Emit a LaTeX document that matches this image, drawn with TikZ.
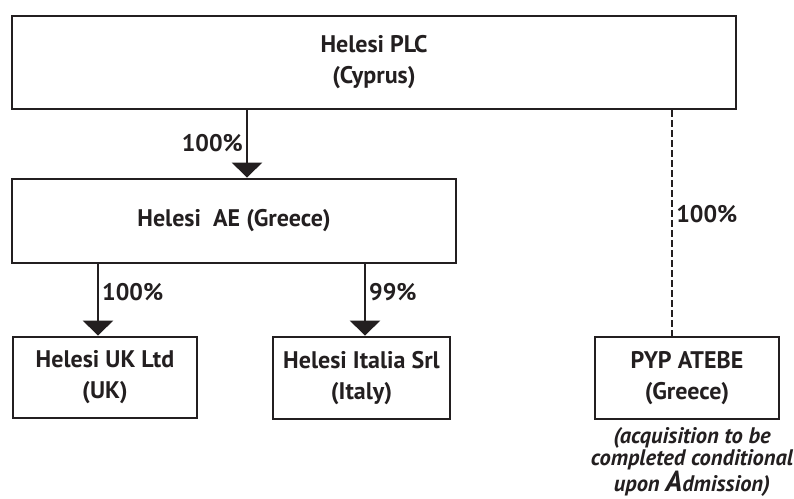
\documentclass[tikz,border=0pt]{standalone}
\usepackage{fontspec}
\setmainfont{PT Sans}
\usetikzlibrary{arrows.meta,positioning}
\definecolor{inkblack}{RGB}{35,31,32}
\tikzstyle{arrow} = [line width=2.4pt,-{Triangle[width=30pt,length=15pt]},color=inkblack]
\tikzstyle{entity} = [rectangle, draw=inkblack, line width=2.8pt, text=inkblack, text centered, align=center, inner sep=0pt, font=\fontsize{24}{31}\selectfont\bfseries]
\tikzstyle{pct} = [font=\fontsize{24}{28}\selectfont\bfseries, text=inkblack, inner sep=3pt]

\begin{document}
\begin{tikzpicture}[x=1pt, y=-1pt]
\useasboundingbox (0,0) rectangle (794,498);
\node[entity, minimum width=724pt, minimum height=93pt] (plc) at (374,62.5) {Helesi PLC\\(Cyprus)};
\node[entity, minimum width=444pt, minimum height=84pt] (ae) at (234,221) {Helesi\ \ AE (Greece)};
\node[entity, minimum width=184pt, minimum height=81pt] (uk) at (105,377.5) {Helesi UK Ltd\\(UK)};
\node[entity, minimum width=177pt, minimum height=82pt] (it) at (361.5,378) {Helesi Italia Srl\\(Italy)};
\node[entity, minimum width=184pt, minimum height=82pt] (pyp) at (687,378) {PYP ATEBE\\(Greece)};
\node[font=\fontsize{22.5}{21.5}\selectfont\bfseries\itshape, text=inkblack, align=center, below=4pt of pyp.south, xshift=5pt] (note)
  {(acquisition to be\\completed conditional\\upon {\fontsize{29}{21.5}\selectfont A}dmission)};

\coordinate (x1) at (247,0);
\coordinate (x2) at (98,0);
\coordinate (x3) at (365,0);
\coordinate (x4) at (672,0);
\draw[arrow] (plc.south -| x1) -- node[pct, left, pos=0.48] {100\%} (ae.north -| x1);
\draw[arrow] (ae.south -| x2) -- node[pct, right, pos=0.39] {100\%} (uk.north -| x2);
\draw[arrow] (ae.south -| x3) -- node[pct, right, pos=0.39] {99\%} (it.north -| x3);
\draw[line width=2.6pt, dash pattern=on 7pt off 3pt, color=inkblack] (plc.south -| x4) -- node[pct, right, pos=0.46] {100\%} (pyp.north -| x4);
\end{tikzpicture}
\end{document}
